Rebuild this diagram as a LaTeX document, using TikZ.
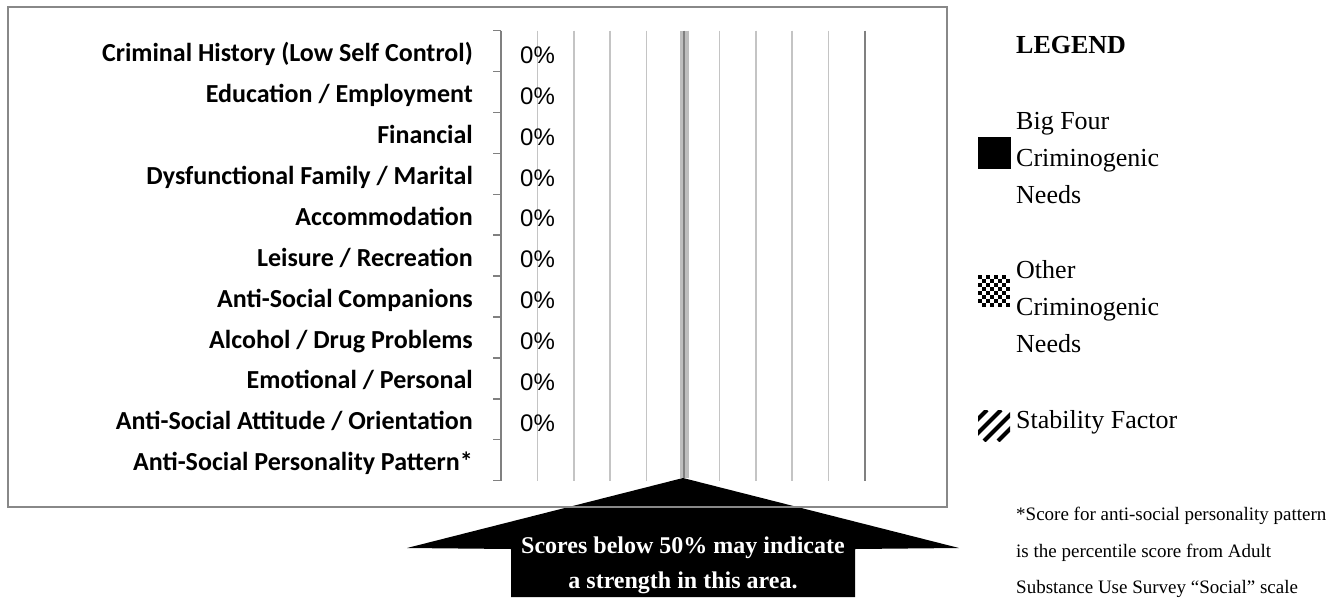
\documentclass[tikz,border=0pt]{standalone}
\usepackage{fontspec}
\setmainfont{Liberation Serif}
\newfontfamily\calibf{Carlito}
\newfontfamily\arialf{Liberation Sans}
\definecolor{framegray}{RGB}{136,136,136}
\definecolor{gridgray}{RGB}{196,196,196}
\definecolor{darkgrid}{RGB}{128,128,128}
\definecolor{midband}{RGB}{190,190,190}
\begin{document}
\begin{tikzpicture}[x=1pt,y=-1pt,
  rowlabel/.style={anchor=base east,inner sep=0pt,font=\calibf\bfseries\fontsize{26}{30}\selectfont},
  pct/.style={anchor=base west,inner sep=0pt,font=\arialf\fontsize{24}{28}\selectfont},
  legtext/.style={anchor=base west,inner sep=0pt,font=\fontsize{26}{30}\selectfont},
  foottext/.style={anchor=base west,inner sep=0pt,font=\fontsize{19}{22}\selectfont},
  arrowtext/.style={anchor=base,inner sep=0pt,text=white,font=\bfseries\fontsize{24}{28}\selectfont},
  gridline/.style={draw=gridgray,line width=1.5pt},
  axisline/.style={draw=darkgrid,line width=1.5pt}]
\useasboundingbox (0,0) rectangle (1343,597);
\fill[white] (0,0) rectangle (1343,597);
% arrow callout
\fill[black] (683,478) -- (959,548) -- (855,549) -- (855,597) -- (511,597) -- (511,549) -- (407,548) -- cycle;
% chart frame
\draw[draw=framegray,line width=2pt] (8,7) rectangle (947,507);
% grid lines
\foreach \k in {1,2,3,4,6,7,8,9} {
  \draw[gridline] ({501+36.4*\k},30.7) -- ({501+36.4*\k},481);
}
\draw[draw=midband,line width=9pt] (684,30.7) -- (684,478);
\draw[draw=darkgrid,line width=1.2pt] (684,30.7) -- (684,478);
\draw[axisline] (865,30.7) -- (865,481);
% axis with ticks
\draw[axisline] (501,30.7) -- (501,481);
\foreach \k in {0,...,11} {
  \draw[axisline] (493,{30.7+40.9*\k}) -- (501,{30.7+40.9*\k});
}
% row labels
\foreach \t [count=\i from 0] in {Criminal History (Low Self Control),Education / Employment,Financial,Dysfunctional Family / Marital\ ,Accommodation,Leisure / Recreation,Anti-Social Companions,Alcohol / Drug Problems,Emotional / Personal,Anti-Social Attitude / Orientation,Anti-Social Personality Pattern*} {
  \node[rowlabel] (lab\i) at (473,{61.7+40.9*\i}) {\t};
}
\foreach \i in {0,...,9} {
  \node[pct] (pct\i) at (520,{63.3+40.9*\i}) {0\%};
}
% arrow text
\node[arrowtext] (arr1) at (683,553) {Scores below 50\% may indicate};
\node[arrowtext] (arr2) at (683,588) {a strength in this area.};
% legend
\node[legtext,font=\bfseries\fontsize{26}{30}\selectfont] (legtitle) at (1016,53) {LEGEND};
\node[legtext] (big1) at (1016,129) {Big Four};
\node[legtext] (big2) at (1016,166) {Criminogenic};
\node[legtext] (big3) at (1016,203) {Needs};
\fill[black] (978,137) rectangle (1011,169);
\node[legtext] (oth1) at (1016,278) {Other};
\node[legtext] (oth2) at (1016,315) {Criminogenic};
\node[legtext] (oth3) at (1016,352) {Needs};
\foreach \a in {0,...,7} {
  \foreach \b in {0,...,7} {
    \pgfmathtruncatemacro{\parity}{mod(\a+\b,2)}
    \ifnum\parity=0
      \fill[black] ({978+4*\a},{275+4*\b}) rectangle ({982+4*\a},{279+4*\b});
    \fi
  }
}
\node[legtext] (stab) at (1016,428) {Stability Factor};
\begin{scope}
  \clip (978,410) rectangle (1010,441);
  \foreach \o in {-22,-8,6,20} {
    \draw[black,line width=4pt] ({978+\o},441) -- ({1009+\o},410);
  }
\end{scope}
% footnote
\node[foottext] (foot1) at (1016,520) {*Score for anti-social personality pattern};
\node[foottext] (foot2) at (1016,557) {is the percentile score from Adult};
\node[foottext] (foot3) at (1016,593) {Substance Use Survey “Social” scale};
\end{tikzpicture}
\end{document}
